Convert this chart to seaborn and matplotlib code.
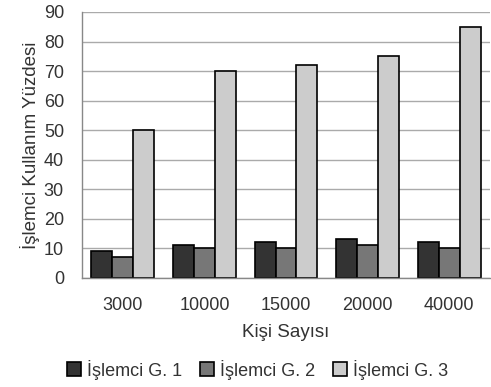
import pandas as pd
import seaborn as sns
import matplotlib.pyplot as plt
from matplotlib.ticker import FixedLocator

categories = ["3000", "10000", "15000", "20000", "40000"]
series = ["İşlemci G. 1", "İşlemci G. 2", "İşlemci G. 3"]
g1 = [9, 11, 12, 13, 12]
g2 = [7, 10, 10, 11, 10]
g3 = [50, 70, 72, 75, 85]
colors = ["#333333", "#777777", "#cccccc"]

df = pd.DataFrame({
    "Kişi Sayısı": categories * 3,
    "grup": [series[0]] * 5 + [series[1]] * 5 + [series[2]] * 5,
    "değer": g1 + g2 + g3,
})

sns.set_style("white")
plt.rcParams["font.family"] = ["Liberation Sans", "DejaVu Sans"]

fig = plt.figure(figsize=(4.91, 3.87), dpi=100)
ax = fig.add_axes([0.167, 0.282, 0.831, 0.687])

sns.barplot(data=df, x="Kişi Sayısı", y="değer", hue="grup",
            palette=colors, width=0.77, gap=0, edgecolor="black",
            linewidth=1.2, ax=ax, legend=True)

ax.set_ylim(0, 90)
ax.set_xlim(-0.5, 4.5)
ax.set_yticks(range(0, 91, 10))
ax.yaxis.grid(True, color="#aaaaaa", linewidth=1)
ax.set_axisbelow(True)

for s in ["top", "right"]:
    ax.spines[s].set_visible(False)
for s in ["left", "bottom"]:
    ax.spines[s].set_color("#888888")
    ax.spines[s].set_linewidth(1)

ax.xaxis.set_minor_locator(FixedLocator([-0.5, 0.5, 1.5, 2.5, 3.5]))
ax.tick_params(axis="x", which="major", length=0, pad=14, labelsize=13, labelcolor="#333333")
ax.tick_params(axis="x", which="minor", length=8, color="#888888", width=1)
ax.tick_params(axis="y", length=8, color="#888888", width=1, pad=5, labelsize=13, labelcolor="#333333")

ax.set_xlabel("Kişi Sayısı", fontsize=13.5, color="#333333", labelpad=7)
ax.set_ylabel("İşlemci Kullanım Yüzdesi", fontsize=13.5, color="#333333", labelpad=3)

handles, labels = ax.get_legend_handles_labels()
ax.legend(handles, labels, loc="center", bbox_to_anchor=(0.43, -0.345),
          ncol=3, frameon=False, fontsize=13, handlelength=0.8, handleheight=0.8,
          handletextpad=0.3, columnspacing=1.0, labelcolor="#333333")

fig.savefig("out.png", dpi=100)
